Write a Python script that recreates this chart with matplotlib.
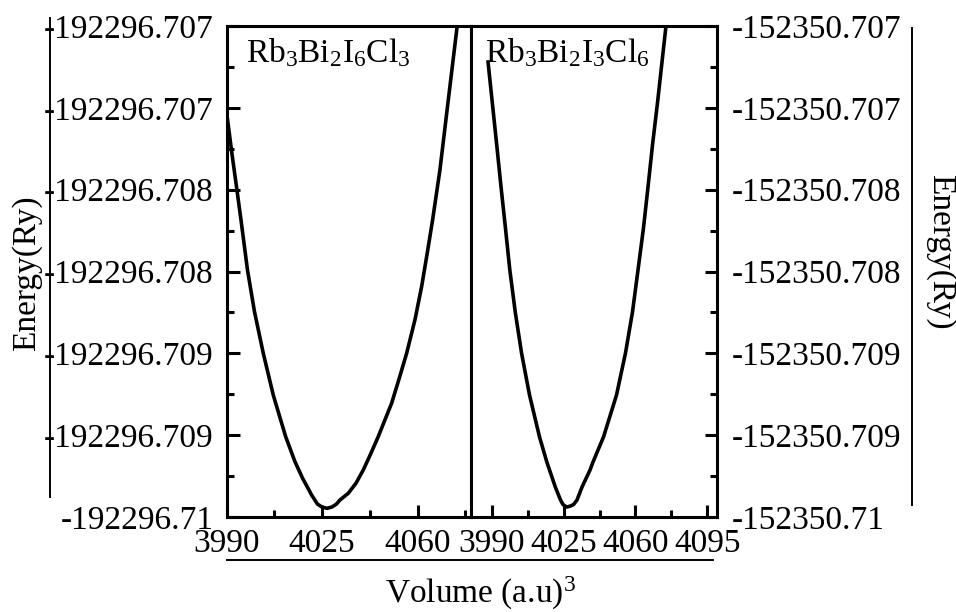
import matplotlib
matplotlib.use("Agg")
import matplotlib.pyplot as plt
from matplotlib.ticker import FixedLocator, FixedFormatter, AutoMinorLocator
from matplotlib.lines import Line2D

plt.rcParams['font.family'] = ['Liberation Serif', 'DejaVu Serif']
plt.rcParams['mathtext.fontset'] = 'custom'
plt.rcParams['mathtext.rm'] = 'Liberation Serif'
plt.rcParams['mathtext.it'] = 'Liberation Serif'
plt.rcParams['mathtext.bf'] = 'Liberation Serif'

#data - Rb3Bi2I6Cl3 (left panel)
vol_a = [3990.07, 3991.98, 3993.66, 3995.31, 3997.69, 4000.26, 4003.48, 4007.14, 4011.68, 4015.09,
         4017.91, 4021.21, 4023.33, 4024.98, 4026.81, 4028.64, 4030.29, 4031.58, 4034.62, 4037.44,
         4040.11, 4042.93, 4045.60, 4050.51, 4053.30, 4056.01, 4059.05, 4061.50, 4063.55, 4065.53,
         4068.21, 4070.40, 4074.54]
en_a = [-192296.707533, -192296.707778, -192296.707982, -192296.708185, -192296.708491, -192296.708746,
        -192296.709000, -192296.709255, -192296.709509, -192296.709662, -192296.709764, -192296.709866,
        -192296.709921, -192296.709939, -192296.709947, -192296.709939, -192296.709921, -192296.709896,
        -192296.709855, -192296.709794, -192296.709713, -192296.709611, -192296.709509, -192296.709305,
        -192296.709153, -192296.709000, -192296.708796, -192296.708593, -192296.708389, -192296.708185,
        -192296.707880, -192296.707574, -192296.707000]

#Rb3Bi2I3Cl6 (right panel)
vol_b = [3988.20, 3990.29, 3992.43, 3994.53, 3996.67, 3998.81, 4001.44, 4004.51, 4008.40, 4013.27,
         4016.83, 4020.96, 4023.50, 4024.71, 4026.42, 4028.12, 4029.83, 4031.53, 4033.96, 4037.86,
         4039.32, 4044.43, 4050.76, 4055.14, 4058.55, 4061.23, 4063.90, 4066.10, 4068.29, 4070.72,
         4072.91, 4074.86]
en_b = [-152350.707220, -152350.707470, -152350.707727, -152350.707984, -152350.708234, -152350.708491,
        -152350.708747, -152350.708998, -152350.709255, -152350.709511, -152350.709664, -152350.709817,
        -152350.709896, -152350.709924, -152350.709939, -152350.709934, -152350.709924, -152350.709896,
        -152350.709817, -152350.709713, -152350.709664, -152350.709511, -152350.709255, -152350.708998,
        -152350.708747, -152350.708491, -152350.708234, -152350.707984, -152350.707727, -152350.707470,
        -152350.707220, -152350.707000]

#tick values and their labels (as printed in the picture)
yticks_a = [-192296.7100, -192296.7095, -192296.7090, -192296.7085, -192296.7080, -192296.7075, -192296.7070]
ylabels_a = ['-192296.71', '-192296.709', '-192296.709', '-192296.708', '-192296.708', '-192296.707', '-192296.707']
yticks_b = [-152350.7100, -152350.7095, -152350.7090, -152350.7085, -152350.7080, -152350.7075, -152350.7070]
ylabels_b = ['-152350.71', '-152350.709', '-152350.709', '-152350.708', '-152350.708', '-152350.707', '-152350.707']
xticks_a = [3990, 4025, 4060]
xticks_b = [3990, 4025, 4060, 4095]

W, H = 956, 612
fig = plt.figure(figsize=(W / 100, H / 100), dpi=100)

def box(x0, y0, x1, y1):
    #pixel box -> figure fraction
    return [x0 / W, 1 - y1 / H, (x1 - x0) / W, (y1 - y0) / H]

ax1 = fig.add_axes(box(226.5, 26, 471, 517))
ax2 = fig.add_axes(box(471, 26, 717, 517))

fs = 24
for ax in (ax1, ax2):
    for sp in ax.spines.values():
        sp.set_linewidth(2.2)
    ax.tick_params(which='both', direction='in', width=2.2, labelsize=fs, top=False)
    ax.tick_params(which='major', length=9)
    ax.tick_params(which='minor', length=5)
    ax.tick_params(axis='x', pad=8)

ax1.plot(vol_a, en_a, color='black', lw=2.6, solid_joinstyle='round')
ax1.set_xlim(3990, 4079.6)
ax1.set_ylim(-192296.7100, -192296.7070)
ax1.xaxis.set_major_locator(FixedLocator(xticks_a))
ax1.xaxis.set_minor_locator(AutoMinorLocator(2))
ax1.yaxis.set_major_locator(FixedLocator(yticks_a))
ax1.yaxis.set_major_formatter(FixedFormatter(ylabels_a))
ax1.yaxis.set_minor_locator(AutoMinorLocator(2))
ax1.tick_params(axis='y', which='both', left=True, right=False, pad=9.5)
ax1.text(0.078, 0.927, r'Rb$_3$Bi$_2$I$_6$Cl$_3$', transform=ax1.transAxes, fontsize=fs,
         ha='left', va='baseline')

ax2.plot(vol_b, en_b, color='black', lw=2.6, solid_joinstyle='round')
ax2.set_xlim(3979.9, 4099.7)
ax2.set_ylim(-152350.7100, -152350.7070)
ax2.xaxis.set_major_locator(FixedLocator(xticks_b))
ax2.xaxis.set_minor_locator(AutoMinorLocator(2))
ax2.yaxis.set_major_locator(FixedLocator(yticks_b))
ax2.yaxis.set_major_formatter(FixedFormatter(ylabels_b))
ax2.yaxis.set_minor_locator(AutoMinorLocator(2))
ax2.tick_params(axis='y', which='both', left=False, right=True, labelleft=False, labelright=True, pad=10.5)
ax2.text(0.057, 0.927, r'Rb$_3$Bi$_2$I$_3$Cl$_6$', transform=ax2.transAxes, fontsize=fs,
         ha='left', va='baseline')

#axis titles and the thin guide lines beside them
fig.text(27 / W, 1 - 273 / H, 'Energy(Ry)', rotation=90, fontsize=fs, ha='center', va='center')
fig.text(940 / W, 1 - 252 / H, 'Energy(Ry)', rotation=-90, fontsize=fs, ha='center', va='center')
fig.text(481 / W, 1 - 593 / H, r'Volume (a.u)$^3$', fontsize=fs, ha='center', va='center')

fig.add_artist(Line2D([50 / W, 50 / W], [1 - 18 / H, 1 - 497 / H], color='black', lw=1.4))
fig.add_artist(Line2D([912 / W, 912 / W], [1 - 28 / H, 1 - 505 / H], color='black', lw=1.4))
fig.add_artist(Line2D([227 / W, 713 / W], [1 - 560 / H, 1 - 560 / H], color='black', lw=1.4))

fig.savefig('out.png', dpi=100)
